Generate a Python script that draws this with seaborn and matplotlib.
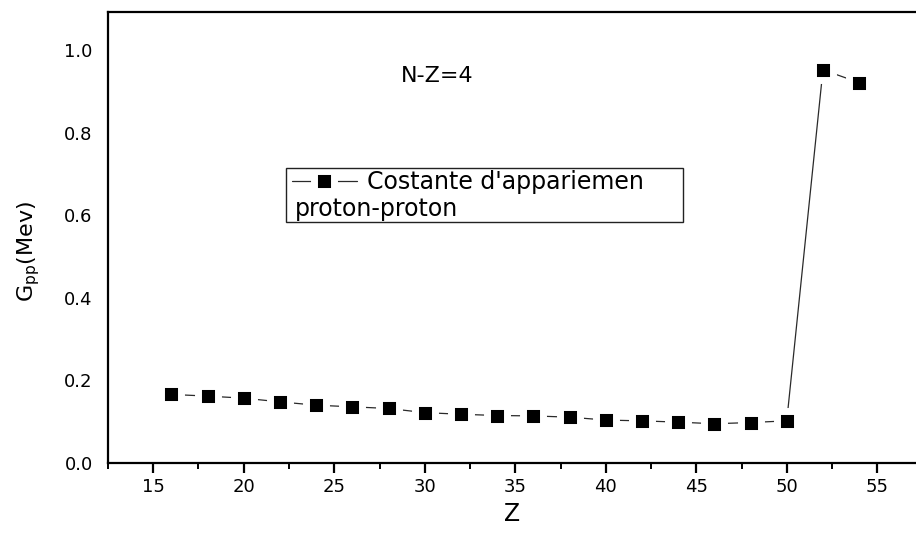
import matplotlib
matplotlib.use("Agg")
import matplotlib.pyplot as plt
import seaborn as sns
import pandas as pd
from matplotlib.ticker import MultipleLocator, FormatStrFormatter
from matplotlib.patches import Rectangle
from matplotlib.lines import Line2D

# ---- data ----
Z = [16, 18, 20, 22, 24, 26, 28, 30, 32, 34, 36, 38, 40, 42, 44, 46, 48, 50, 52, 54]
Gpp = [0.166, 0.162, 0.157, 0.148, 0.140, 0.136, 0.132, 0.122, 0.118, 0.115,
       0.114, 0.111, 0.104, 0.102, 0.099, 0.095, 0.098, 0.102, 0.952, 0.921]
x_ticks = [15, 20, 25, 30, 35, 40, 45, 50, 55]
y_ticks = [0.0, 0.2, 0.4, 0.6, 0.8, 1.0]
series_label = "Costante d'appariemen"
series_label2 = "proton-proton"
annotation = "N-Z=4"

df = pd.DataFrame({"Z": Z, "G": Gpp})

sns.set_style("ticks")
plt.rcParams["font.family"] = ["DejaVu Sans"]
plt.rcParams["mathtext.fontset"] = "dejavusans"
plt.rcParams["text.color"] = "black"
plt.rcParams["axes.labelcolor"] = "black"
plt.rcParams["xtick.color"] = "black"
plt.rcParams["ytick.color"] = "black"

fig = plt.figure(figsize=(9.16, 5.33), dpi=100)
ax = fig.add_axes([108 / 916, 70 / 533, 808 / 916, 451 / 533])

style = dict(color="#2a2a2a", linewidth=0.9, marker="s", markersize=13.7,
             markerfacecolor="black", markeredgecolor="white", markeredgewidth=5)
sns.lineplot(data=df, x="Z", y="G", ax=ax, **style)

ax.set_xlim(12.5, 12.5 + 808 / 18.1)
ax.set_ylim(0, 1.092)
ax.set_xticks(x_ticks)
ax.xaxis.set_minor_locator(MultipleLocator(2.5))
ax.set_yticks(y_ticks)
ax.yaxis.set_major_formatter(FormatStrFormatter("%.1f"))

for s in ["left", "bottom", "top"]:
    ax.spines[s].set_linewidth(1.6)
    ax.spines[s].set_color("black")
ax.spines["right"].set_visible(False)

ax.tick_params(axis="x", which="major", direction="out", length=7, width=1.6,
               labelsize=13, pad=4)
ax.tick_params(axis="x", which="minor", direction="out", length=4.5, width=1.4)
ax.tick_params(axis="y", which="both", length=0, labelsize=13, pad=11)

ax.set_xlabel("Z", fontsize=17, labelpad=4)
ax.set_ylabel(r"G$_{\mathrm{pp}}$(Mev)", fontsize=16)
ax.yaxis.set_label_coords(-0.082, 0.47)

ax.text(0.408, 0.858, annotation, transform=ax.transAxes, fontsize=16,
        ha="center", va="center")

proxy = Line2D([], [], **style)
leg = ax.legend(handles=[proxy], labels=[series_label],
                loc="center left", bbox_to_anchor=(0.2277, 0.623),
                frameon=False, fontsize=17, handlelength=2.75,
                handletextpad=0.42, borderpad=0, borderaxespad=0)
leg.set_zorder(5)
ax.text(0.2314, 0.563, series_label2, transform=ax.transAxes, fontsize=17,
        ha="left", va="center")

# legend box
box = Rectangle((0.2203, 0.5344), 0.7116 - 0.2203, 0.654 - 0.5344,
                transform=ax.transAxes, fill=False, edgecolor="#222222",
                linewidth=1.0, zorder=7)
ax.add_patch(box)

fig.savefig("out.png", dpi=100)
